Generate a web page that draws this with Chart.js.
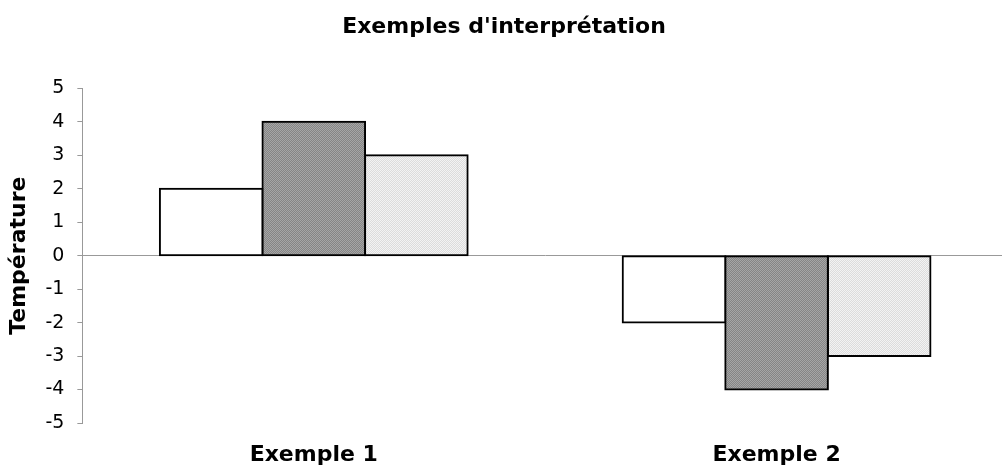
<!DOCTYPE html>
<html>
<head>
<meta charset="utf-8">
<script src="https://cdn.jsdelivr.net/npm/chart.js@4/dist/chart.umd.min.js"></script>
<style>
    html, body { margin: 0; padding: 0; background: #fff; overflow: hidden; }
    #wrap { width: 1008px; height: 466px; }
</style>
</head>
<body>
<div id="wrap"><canvas id="barChart"></canvas></div>
<script>
const categories = ['Exemple 1', 'Exemple 2'];
const serieBlanche = [2, -2];
const serieFoncee = [4, -4];
const serieClaire = [3, -3];
const yMin = -5;
const yMax = 5;

// petit motif pointillé pour imiter le remplissage
function makePattern(c1, c2) {
    const p = document.createElement('canvas');
    p.width = 2;
    p.height = 2;
    const pc = p.getContext('2d');
    pc.fillStyle = c1;
    pc.fillRect(0, 0, 2, 2);
    pc.fillStyle = c2;
    pc.fillRect(0, 0, 1, 1);
    pc.fillRect(1, 1, 1, 1);
    return pc.createPattern(p, 'repeat');
}

document.addEventListener('DOMContentLoaded', function () {
    const ctx = document.getElementById('barChart').getContext('2d');
    const font = 'DejaVu Sans, Verdana, sans-serif';

    // bordure centrée sur le bord de la barre (inflate = moitié de la bordure)
    const common = {
        borderColor: '#000',
        borderWidth: 2,
        borderSkipped: false,
        inflateAmount: 1,
        categoryPercentage: 0.665,
        barPercentage: 1.0
    };

    new Chart(ctx, {
        type: 'bar',
        data: {
            labels: categories,
            datasets: [
                Object.assign({ label: 'Série 1', data: serieBlanche, backgroundColor: '#ffffff' }, common),
                Object.assign({ label: 'Série 2', data: serieFoncee, backgroundColor: makePattern('#858585', '#a6a6a6') }, common),
                Object.assign({ label: 'Série 3', data: serieClaire, backgroundColor: makePattern('#dcdcdc', '#f3f3f3') }, common)
            ]
        },
        options: {
            responsive: true,
            maintainAspectRatio: false,
            animation: false,
            layout: { padding: 0 },
            plugins: {
                legend: { display: false },
                tooltip: { enabled: false },
                title: {
                    display: true,
                    text: "Exemples d'interprétation",
                    color: '#000',
                    font: { family: font, size: 22, weight: 'bold', lineHeight: 1.2 },
                    padding: { top: 14, bottom: 48 }
                }
            },
            scales: {
                x: {
                    grid: { display: false, drawTicks: true, tickLength: 21 },
                    border: { display: false },
                    ticks: {
                        color: '#000',
                        padding: 0,
                        font: { family: font, size: 22, weight: 'bold', lineHeight: 1.0 }
                    }
                },
                y: {
                    min: yMin,
                    max: yMax,
                    ticks: {
                        stepSize: 1,
                        color: '#000',
                        padding: 13,
                        font: { family: font, size: 19 }
                    },
                    grid: {
                        color: c => (c.tick && c.tick.value === 0) ? '#999' : 'rgba(0,0,0,0)',
                        tickColor: '#999',
                        tickLength: 5,
                        lineWidth: 1
                    },
                    border: { display: true, color: '#999', width: 1 },
                    title: {
                        display: true,
                        text: 'Température',
                        color: '#000',
                        font: { family: font, size: 22, weight: 'bold', lineHeight: 1.2 },
                        padding: { top: 6, bottom: 0 }
                    }
                }
            }
        }
    });
});
</script>
</body>
</html>
